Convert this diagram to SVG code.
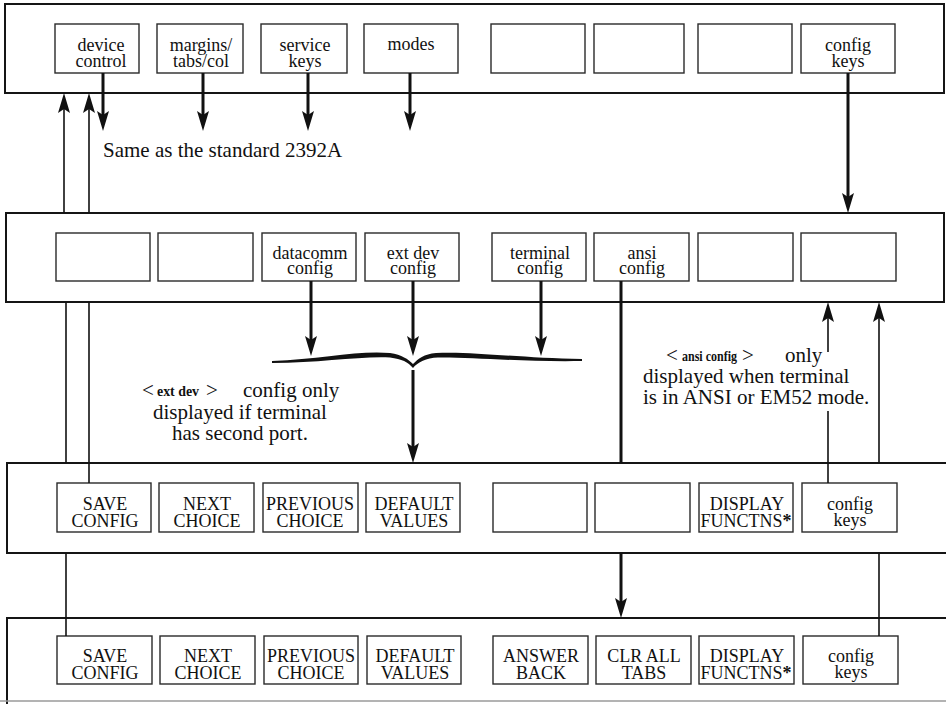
<svg xmlns="http://www.w3.org/2000/svg" width="946" height="704" viewBox="0 0 946 704">
<defs>
<style>
.panel{fill:#fff;stroke:#151515;stroke-width:2}
.box{fill:#fff;stroke:#2a2a2a;stroke-width:1.4}
.lbl{font-family:"Liberation Serif","Times New Roman",serif;font-size:18px;fill:#111;text-anchor:middle}
.note{font-family:"Liberation Serif","Times New Roman",serif;font-size:21px;fill:#111}
.bn{font-size:15px;font-weight:bold}
.b{font-weight:bold}
.thick{stroke:#111;stroke-width:3;fill:none}
.thin{stroke:#111;stroke-width:1.6;fill:none}
</style>
<marker id="ah" viewBox="0 0 20 12" refX="12" refY="6" markerWidth="20" markerHeight="12" markerUnits="userSpaceOnUse" orient="auto">
<path d="M0,0 L20,6 L0,12 L4,6 Z" fill="#111"/>
</marker>
</defs>
<rect width="946" height="704" fill="#fff"/>

<g id="panel1">
<rect class="panel" x="5" y="4" width="939" height="89"/>
<g id="p1-device-control"><rect class="box" x="55" y="24" width="84" height="49"/><text class="lbl" x="101" y="51">device<tspan x="101" dy="16">control</tspan></text></g>
<g id="p1-margins"><rect class="box" x="157" y="24" width="86" height="49"/><text class="lbl" x="201" y="51">margins/<tspan x="201" dy="16">tabs/col</tspan></text></g>
<g id="p1-service-keys"><rect class="box" x="261" y="24" width="86" height="49"/><text class="lbl" x="305" y="51">service<tspan x="305" dy="16">keys</tspan></text></g>
<g id="p1-modes"><rect class="box" x="364" y="24" width="94" height="49"/><text class="lbl" x="411" y="50">modes</text></g>
<g id="p1-blank1"><rect class="box" x="491" y="24" width="94" height="49"/></g>
<g id="p1-blank2"><rect class="box" x="594" y="24" width="90" height="49"/></g>
<g id="p1-blank3"><rect class="box" x="698" y="24" width="94" height="49"/></g>
<g id="p1-config-keys"><rect class="box" x="801" y="24" width="94" height="49"/><text class="lbl" x="848" y="51">config<tspan x="848" dy="16">keys</tspan></text></g>
</g>

<g id="panel2">
<rect class="panel" x="6" y="213" width="938" height="89"/>
<g id="p2-blank1"><rect class="box" x="56" y="233" width="94" height="48"/></g>
<g id="p2-blank2"><rect class="box" x="158" y="233" width="95" height="48"/></g>
<g id="p2-datacomm"><rect class="box" x="262" y="233" width="94" height="48"/><text class="lbl" x="310" y="259">datacomm<tspan x="310" dy="15">config</tspan></text></g>
<g id="p2-extdev"><rect class="box" x="365" y="233" width="94" height="48"/><text class="lbl" x="413" y="259">ext dev<tspan x="413" dy="15">config</tspan></text></g>
<g id="p2-terminal"><rect class="box" x="492" y="233" width="94" height="48"/><text class="lbl" x="540" y="259">terminal<tspan x="540" dy="15">config</tspan></text></g>
<g id="p2-ansi"><rect class="box" x="594" y="233" width="95" height="48"/><text class="lbl" x="642" y="259">ansi<tspan x="642" dy="15">config</tspan></text></g>
<g id="p2-blank3"><rect class="box" x="698" y="233" width="95" height="48"/></g>
<g id="p2-blank4"><rect class="box" x="801" y="233" width="95" height="48"/></g>
</g>

<g id="panel3">
<rect class="panel" x="7" y="463" width="945" height="90"/>
<g id="p3-save"><rect class="box" x="57" y="483" width="94" height="49"/><text class="lbl" x="105" y="510">SAVE<tspan x="105" dy="17">CONFIG</tspan></text></g>
<g id="p3-next"><rect class="box" x="159" y="483" width="95" height="49"/><text class="lbl" x="207" y="510">NEXT<tspan x="207" dy="17">CHOICE</tspan></text></g>
<g id="p3-prev"><rect class="box" x="263" y="483" width="95" height="49"/><text class="lbl" x="310" y="510">PREVIOUS<tspan x="310" dy="17">CHOICE</tspan></text></g>
<g id="p3-default"><rect class="box" x="366" y="483" width="94" height="49"/><text class="lbl" x="414" y="510">DEFAULT<tspan x="414" dy="17">VALUES</tspan></text></g>
<g id="p3-blank1"><rect class="box" x="493" y="483" width="94" height="49"/></g>
<g id="p3-blank2"><rect class="box" x="595" y="483" width="95" height="49"/></g>
<g id="p3-display"><rect class="box" x="699" y="483" width="94" height="49"/><text class="lbl" x="747" y="510">DISPLAY<tspan x="746" dy="17">FUNCTNS</tspan><tspan class="b">*</tspan></text></g>
<g id="p3-config-keys"><rect class="box" x="802" y="483" width="95" height="49"/><text class="lbl" x="850" y="510">config<tspan x="850" dy="16">keys</tspan></text></g>
</g>

<g id="panel4">
<path class="panel" d="M952,618 H7 V704" fill="none"/>
<line x1="0" y1="701" x2="946" y2="701" stroke="#9a9a9a" stroke-width="1.5"/>
<g id="p4-save"><rect class="box" x="57" y="636" width="95" height="48"/><text class="lbl" x="105" y="662">SAVE<tspan x="105" dy="17">CONFIG</tspan></text></g>
<g id="p4-next"><rect class="box" x="160" y="636" width="95" height="48"/><text class="lbl" x="208" y="662">NEXT<tspan x="208" dy="17">CHOICE</tspan></text></g>
<g id="p4-prev"><rect class="box" x="264" y="636" width="94" height="48"/><text class="lbl" x="311" y="662">PREVIOUS<tspan x="311" dy="17">CHOICE</tspan></text></g>
<g id="p4-default"><rect class="box" x="367" y="636" width="94" height="48"/><text class="lbl" x="415" y="662">DEFAULT<tspan x="415" dy="17">VALUES</tspan></text></g>
<g id="p4-answer"><rect class="box" x="493" y="636" width="95" height="48"/><text class="lbl" x="541" y="662">ANSWER<tspan x="541" dy="17">BACK</tspan></text></g>
<g id="p4-clr"><rect class="box" x="596" y="636" width="95" height="48"/><text class="lbl" x="644" y="662">CLR ALL<tspan x="644" dy="17">TABS</tspan></text></g>
<g id="p4-display"><rect class="box" x="699" y="636" width="95" height="48"/><text class="lbl" x="747" y="662">DISPLAY<tspan x="746" dy="17">FUNCTNS</tspan><tspan class="b">*</tspan></text></g>
<g id="p4-config-keys"><rect class="box" x="803" y="636" width="95" height="48"/><text class="lbl" x="851" y="662">config<tspan x="851" dy="16">keys</tspan></text></g>
</g>

<g id="connectors">
<line class="thin" x1="66" y1="636" x2="66" y2="553"/>
<line class="thin" x1="66" y1="463" x2="66" y2="302"/>
<line class="thin" x1="64" y1="213" x2="64" y2="101" marker-end="url(#ah)"/>
<line class="thin" x1="89" y1="483" x2="89" y2="302"/>
<line class="thin" x1="89" y1="213" x2="89" y2="101" marker-end="url(#ah)"/>
<line class="thick" x1="103" y1="73" x2="103" y2="123" marker-end="url(#ah)"/>
<line class="thick" x1="203" y1="73" x2="203" y2="123" marker-end="url(#ah)"/>
<line class="thick" x1="308" y1="73" x2="308" y2="123" marker-end="url(#ah)"/>
<line class="thick" x1="410" y1="73" x2="410" y2="123" marker-end="url(#ah)"/>
<line class="thick" x1="848" y1="73" x2="848" y2="205" marker-end="url(#ah)"/>
<line class="thick" x1="311" y1="281" x2="311" y2="348" marker-end="url(#ah)"/>
<line class="thick" x1="413" y1="281" x2="413" y2="348" marker-end="url(#ah)"/>
<line class="thick" x1="541" y1="281" x2="541" y2="348" marker-end="url(#ah)"/>
<path d="M272,361 C320,359 360,350 390,353 C402,355 408,359 413,364 C418,359 424,354 436,353 C470,351 520,358 582,359 L582,361 C520,362 470,357 438,357.5 C426,358 418,362 413,368 C408,362 402,359 390,357.5 C360,356 320,363 272,363 Z" fill="#111"/>
<line class="thick" x1="413" y1="370" x2="413" y2="455" marker-end="url(#ah)"/>
<line class="thick" x1="621" y1="281" x2="621" y2="463"/>
<line class="thick" x1="621" y1="553" x2="621" y2="610" marker-end="url(#ah)"/>
<line class="thin" x1="828" y1="483" x2="828" y2="411"/>
<line class="thin" x1="828" y1="352" x2="828" y2="310" marker-end="url(#ah)"/>
<line class="thin" x1="879" y1="636" x2="879" y2="553"/>
<line class="thin" x1="879" y1="463" x2="879" y2="310" marker-end="url(#ah)"/>
</g>

<g id="notes">
<text class="note" x="103" y="157">Same as the standard 2392A</text>
<text class="note" x="142" y="397">&lt;<tspan class="bn" x="157" dy="-1" textLength="42" lengthAdjust="spacingAndGlyphs">ext dev</tspan><tspan x="206" dy="1">&gt;</tspan><tspan x="243">config only</tspan><tspan x="153" dy="22">displayed if terminal</tspan><tspan x="172" dy="21">has second port.</tspan></text>
<text class="note" x="666" y="362">&lt;<tspan class="bn" x="682" dy="-1" textLength="55" lengthAdjust="spacingAndGlyphs">ansi config</tspan><tspan x="742" dy="1">&gt;</tspan><tspan x="785">only</tspan><tspan x="643" dy="21">displayed when terminal</tspan><tspan x="643" dy="21">is in ANSI or EM52 mode.</tspan></text>
</g>
</svg>
